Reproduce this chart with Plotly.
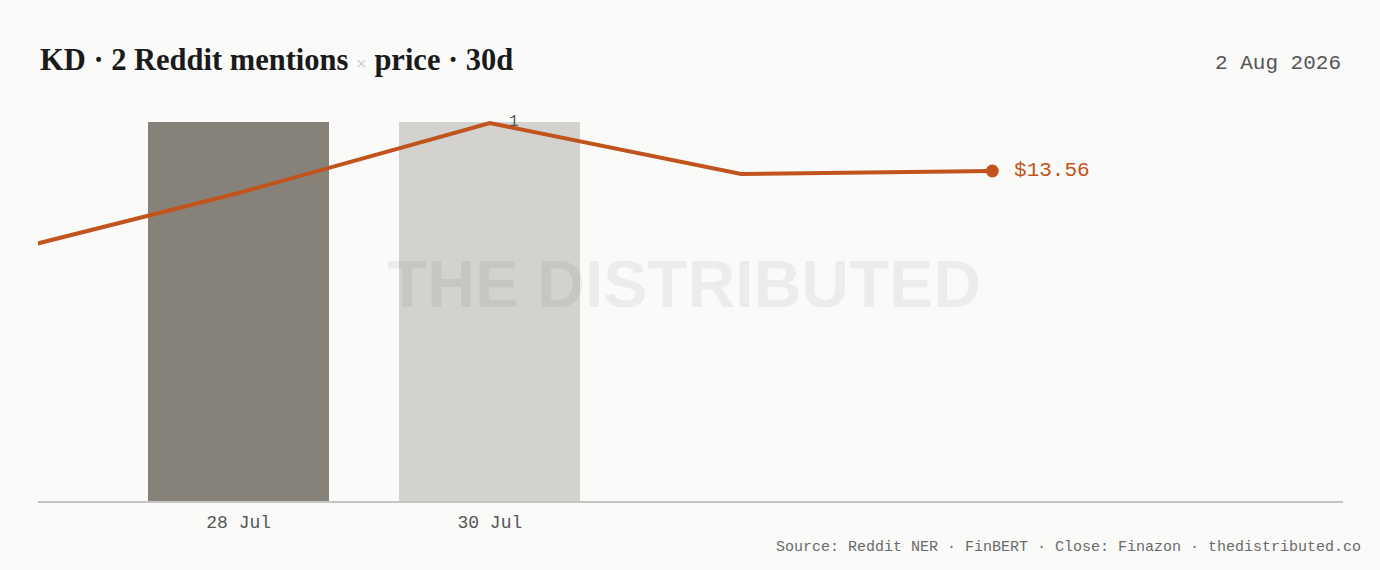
import plotly.graph_objects as go

# ---- data ----
bar_dates = ["2026-07-28", "2026-07-30"]
bar_labels = ["28 Jul", "30 Jul"]
mentions = [1, 1]
bar_colors = ["#878279", "#d3d2ce"]

price_dates = ["2026-07-26", "2026-07-28", "2026-07-30", "2026-08-01", "2026-08-03"]
price_close = [13.135, 13.45, 13.80, 13.545, 13.56]

title_main = "KD · 2 Reddit mentions"
title_tail = "price · 30d"
date_label = "2 Aug 2026"
source_text = "Source: Reddit NER · FinBERT · Close: Finazon · thedistributed.co"
watermark = "THE DISTRIBUTED"

BG = "#fafaf9"
ORANGE = "#c1531d"
MONO = "Liberation Mono"

fig = go.Figure()

fig.add_trace(go.Bar(
    x=bar_dates, y=mentions, marker_color=bar_colors, marker_line_width=0,
    width=124_600_000, yaxis="y", hoverinfo="skip", showlegend=False,
))

fig.add_trace(go.Scatter(
    x=price_dates, y=price_close, mode="lines", yaxis="y2",
    line=dict(color=ORANGE, width=4), hoverinfo="skip", showlegend=False,
))
fig.add_trace(go.Scatter(
    x=[price_dates[-1]], y=[price_close[-1]], mode="markers+text", yaxis="y2",
    marker=dict(color=ORANGE, size=13),
    text=[f" ${price_close[-1]:.2f}"], textposition="middle right",
    textfont=dict(family=MONO, size=21, color=ORANGE),
    hoverinfo="skip", showlegend=False, cliponaxis=False,
))

annotations = [
    dict(text=f"{title_main} <span style='color:#c4c4c4;font-size:19px;font-weight:normal'>×</span> {title_tail}",
         x=0, xref="paper", xanchor="left", y=1.128, yref="paper", yanchor="middle",
         showarrow=False, font=dict(family="Liberation Serif", size=30.5, color="#1a1a1a", weight="bold")),
    dict(text=date_label, x=1, xref="paper", xanchor="right", y=1.12, yref="paper", yanchor="middle",
         showarrow=False, font=dict(family=MONO, size=21, color="#555555")),
    dict(text=source_text, x=(1363 - 38) / 1305, xref="paper", xanchor="right", y=(501 - 547) / 391, yref="paper",
         yanchor="middle", showarrow=False, font=dict(family=MONO, size=15, color="#6a6a6a")),
    dict(text=watermark, x=0.495, xref="paper", y=0.555, yref="paper", xanchor="center", yanchor="middle",
         showarrow=False, font=dict(family="Liberation Sans", size=66, color="rgba(0,0,0,0.055)", weight="bold")),
    dict(text=str(mentions[1]), x=bar_dates[1], xref="x", y=mentions[1], yref="y", xshift=24,
         yanchor="middle", showarrow=False, font=dict(family=MONO, size=16, color="#555555")),
]

fig.update_layout(
    width=1380, height=570,
    paper_bgcolor=BG, plot_bgcolor=BG,
    margin=dict(l=38, r=37, t=110, b=69),
    annotations=annotations,
    xaxis=dict(
        type="date", range=["2026-07-26 09:40", "2026-08-05 19:00"],
        tickvals=bar_dates, ticktext=bar_labels,
        tickfont=dict(family=MONO, size=18, color="#555555"),
        showgrid=False, zeroline=False, showline=True, linecolor="#c4c4c2", linewidth=2,
        ticks="", ticklabelstandoff=3,
    ),
    yaxis=dict(range=[0, 1.0317], visible=False, fixedrange=True),
    yaxis2=dict(range=[11.91, 13.865], overlaying="y", visible=False),
    bargap=0,
)

fig.write_html(
    "out.html",
    config={"displayModeBar": False},
    post_script="document.body.style.margin='0';document.body.style.background='#fafaf9';",
)
